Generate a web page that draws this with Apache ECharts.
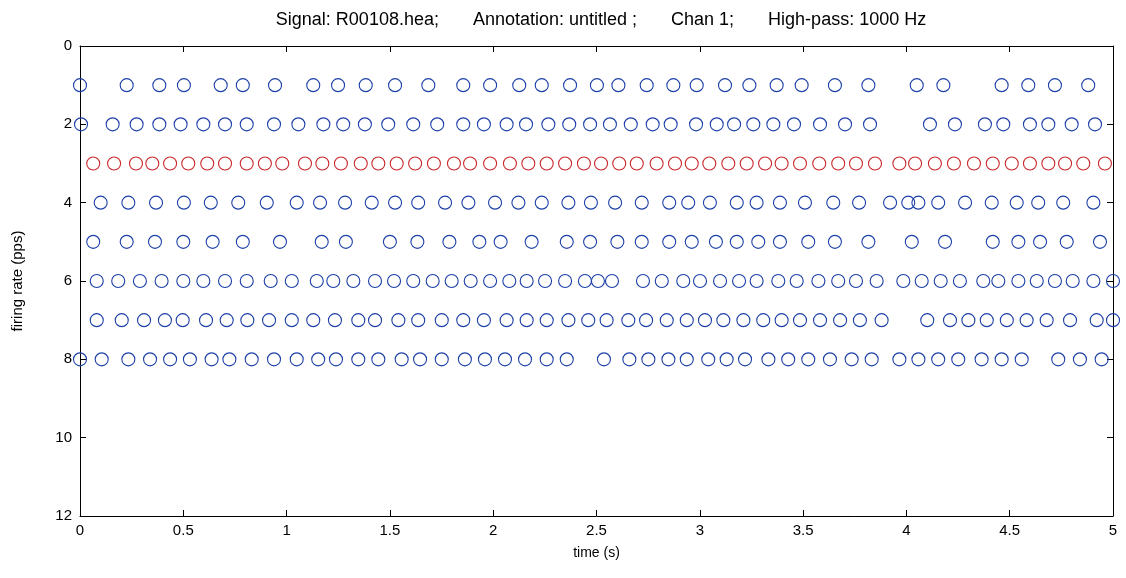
<!DOCTYPE html>
<html>
<head>
<meta charset="utf-8">
<script src="https://cdn.jsdelivr.net/npm/echarts@6/dist/echarts.min.js"></script>
<style>
  html, body { margin: 0; padding: 0; background: #ffffff; }
  #chart { width: 1126px; height: 578px; }
</style>
</head>
<body>
<div id="chart"></div>
<script>
// Tick values
var xTicks = [0, 0.5, 1, 1.5, 2, 2.5, 3, 3.5, 4, 4.5, 5];
var yTicks = [0, 2, 4, 6, 8, 10, 12];

// Row (firing rate level) of each unit and its firing times (s)
var rowLevels = [1, 2, 3, 4, 5, 6, 7, 8];

var row1 = [0.000, 0.226, 0.384, 0.503, 0.681, 0.788, 0.944, 1.129, 1.249, 1.383, 1.525, 1.686, 1.855, 1.985, 2.126, 2.235, 2.372, 2.502, 2.606, 2.743, 2.872, 2.985, 3.122, 3.240, 3.372, 3.493, 3.654, 3.816, 4.050, 4.179, 4.461, 4.590, 4.719, 4.880];

var row2 = [0.005, 0.158, 0.274, 0.384, 0.487, 0.597, 0.702, 0.807, 0.939, 1.057, 1.178, 1.274, 1.379, 1.492, 1.613, 1.729, 1.855, 1.955, 2.065, 2.159, 2.267, 2.368, 2.469, 2.565, 2.666, 2.772, 2.859, 2.982, 3.082, 3.166, 3.259, 3.356, 3.456, 3.582, 3.703, 3.824, 4.114, 4.235, 4.380, 4.469, 4.598, 4.687, 4.800, 4.913];

var row3 = [0.064, 0.165, 0.271, 0.350, 0.436, 0.524, 0.616, 0.702, 0.807, 0.895, 0.979, 1.089, 1.173, 1.263, 1.359, 1.444, 1.533, 1.622, 1.713, 1.810, 1.888, 1.985, 2.081, 2.170, 2.259, 2.348, 2.439, 2.522, 2.610, 2.695, 2.791, 2.880, 2.961, 3.046, 3.138, 3.227, 3.316, 3.396, 3.485, 3.578, 3.670, 3.756, 3.848, 3.966, 4.042, 4.138, 4.230, 4.327, 4.418, 4.510, 4.598, 4.687, 4.768, 4.856, 4.961];

var row4 = [0.100, 0.234, 0.368, 0.503, 0.633, 0.766, 0.904, 1.049, 1.162, 1.283, 1.412, 1.525, 1.637, 1.767, 1.880, 2.009, 2.122, 2.235, 2.364, 2.473, 2.590, 2.719, 2.852, 2.944, 3.049, 3.179, 3.275, 3.388, 3.509, 3.646, 3.771, 3.921, 4.009, 4.058, 4.154, 4.284, 4.413, 4.534, 4.638, 4.759, 4.905];

var row5 = [0.064, 0.226, 0.363, 0.500, 0.642, 0.788, 0.968, 1.170, 1.287, 1.500, 1.633, 1.788, 1.933, 2.036, 2.186, 2.356, 2.469, 2.601, 2.719, 2.852, 2.961, 3.078, 3.179, 3.283, 3.388, 3.525, 3.654, 3.816, 4.026, 4.187, 4.418, 4.542, 4.647, 4.776, 4.937];

var row6 = [0.081, 0.185, 0.290, 0.395, 0.500, 0.597, 0.702, 0.807, 0.923, 1.025, 1.146, 1.226, 1.323, 1.428, 1.520, 1.613, 1.707, 1.799, 1.891, 1.985, 2.078, 2.162, 2.251, 2.348, 2.444, 2.507, 2.575, 2.725, 2.816, 2.920, 3.001, 3.098, 3.190, 3.275, 3.380, 3.469, 3.574, 3.670, 3.756, 3.856, 3.985, 4.074, 4.166, 4.259, 4.372, 4.445, 4.542, 4.631, 4.719, 4.805, 4.905, 5.000];

var row7 = [0.081, 0.202, 0.310, 0.411, 0.497, 0.610, 0.710, 0.810, 0.915, 1.025, 1.129, 1.234, 1.347, 1.428, 1.541, 1.637, 1.751, 1.855, 1.955, 2.065, 2.162, 2.259, 2.364, 2.460, 2.549, 2.654, 2.740, 2.840, 2.937, 3.025, 3.114, 3.211, 3.307, 3.396, 3.485, 3.582, 3.679, 3.775, 3.880, 4.101, 4.211, 4.300, 4.389, 4.486, 4.582, 4.679, 4.792, 4.921, 5.000];

var row8 = [0.000, 0.105, 0.234, 0.339, 0.436, 0.532, 0.637, 0.723, 0.831, 0.939, 1.049, 1.153, 1.239, 1.347, 1.444, 1.557, 1.646, 1.751, 1.863, 1.960, 2.057, 2.154, 2.259, 2.356, 2.536, 2.659, 2.751, 2.848, 2.937, 3.041, 3.130, 3.219, 3.332, 3.428, 3.525, 3.630, 3.735, 3.832, 3.966, 4.058, 4.154, 4.251, 4.364, 4.461, 4.558, 4.735, 4.840, 4.945];

var rows = [row1, row2, row3, row4, row5, row6, row7, row8];
var highlightedRow = 3;

var titleParts = ['Signal: R00108.hea;', 'Annotation: untitled ;', 'Chan 1;', 'High-pass: 1000 Hz'];
var xName = 'time (s)';
var yName = 'firing rate (pps)';

var FONT = '"Liberation Sans", Arial, Helvetica, sans-serif';
var BLUE = '#1c3fa8';
var RED = '#c8262a';

var series = rows.map(function (times, i) {
  var level = rowLevels[i];
  return {
    type: 'scatter',
    xAxisIndex: 0,
    yAxisIndex: 0,
    symbol: 'circle',
    symbolSize: 13,
    clip: false,
    silent: true,
    itemStyle: {
      color: 'rgba(255,255,255,0)',
      borderColor: level === highlightedRow ? RED : BLUE,
      borderWidth: 1.1,
      opacity: 1
    },
    data: times.map(function (t) { return [t, level]; })
  };
});

var xMin = xTicks[0], xMax = xTicks[xTicks.length - 1], xInt = xTicks[1] - xTicks[0];
var yMin = yTicks[0], yMax = yTicks[yTicks.length - 1], yInt = yTicks[1] - yTicks[0];

var axisLine = { show: true, onZero: false, lineStyle: { color: '#000', width: 1 } };
var tickIn = { show: true, inside: true, length: 6, lineStyle: { color: '#000', width: 1 } };

var chart = echarts.init(document.getElementById('chart'), null, { renderer: 'canvas' });
chart.setOption({
  animation: false,
  backgroundColor: '#ffffff',
  title: {
    text: titleParts.join('{g|   }'),
    left: 596,
    textAlign: 'center',
    top: 6,
    textStyle: {
      fontFamily: FONT, fontSize: 18, fontWeight: 'normal', color: '#000',
      rich: { g: { width: 34, fontSize: 18, fontFamily: FONT } }
    }
  },
  grid: { left: 80, right: 13, top: 46, bottom: 62, containLabel: false },
  xAxis: [
    {
      type: 'value', position: 'bottom', min: xMin, max: xMax, interval: xInt,
      name: xName, nameLocation: 'middle', nameGap: 30,
      nameTextStyle: { fontFamily: FONT, fontSize: 14, color: '#000' },
      axisLine: axisLine, axisTick: tickIn,
      axisLabel: { show: true, margin: 7, fontFamily: FONT, fontSize: 15, color: '#000' },
      splitLine: { show: false }
    },
    {
      type: 'value', position: 'top', min: xMin, max: xMax, interval: xInt,
      axisLine: axisLine, axisTick: tickIn,
      axisLabel: { show: false }, splitLine: { show: false }
    }
  ],
  yAxis: [
    {
      type: 'value', position: 'left', inverse: true, min: yMin, max: yMax, interval: yInt,
      name: yName, nameLocation: 'middle', nameGap: 55, nameRotate: 90,
      nameTextStyle: { fontFamily: FONT, fontSize: 15, color: '#000' },
      axisLine: axisLine, axisTick: tickIn,
      axisLabel: { show: true, margin: 8, fontFamily: FONT, fontSize: 15, color: '#000' },
      splitLine: { show: false }
    },
    {
      type: 'value', position: 'right', inverse: true, min: yMin, max: yMax, interval: yInt,
      axisLine: axisLine, axisTick: tickIn,
      axisLabel: { show: false }, splitLine: { show: false }
    }
  ],
  series: series
});
</script>
</body>
</html>
